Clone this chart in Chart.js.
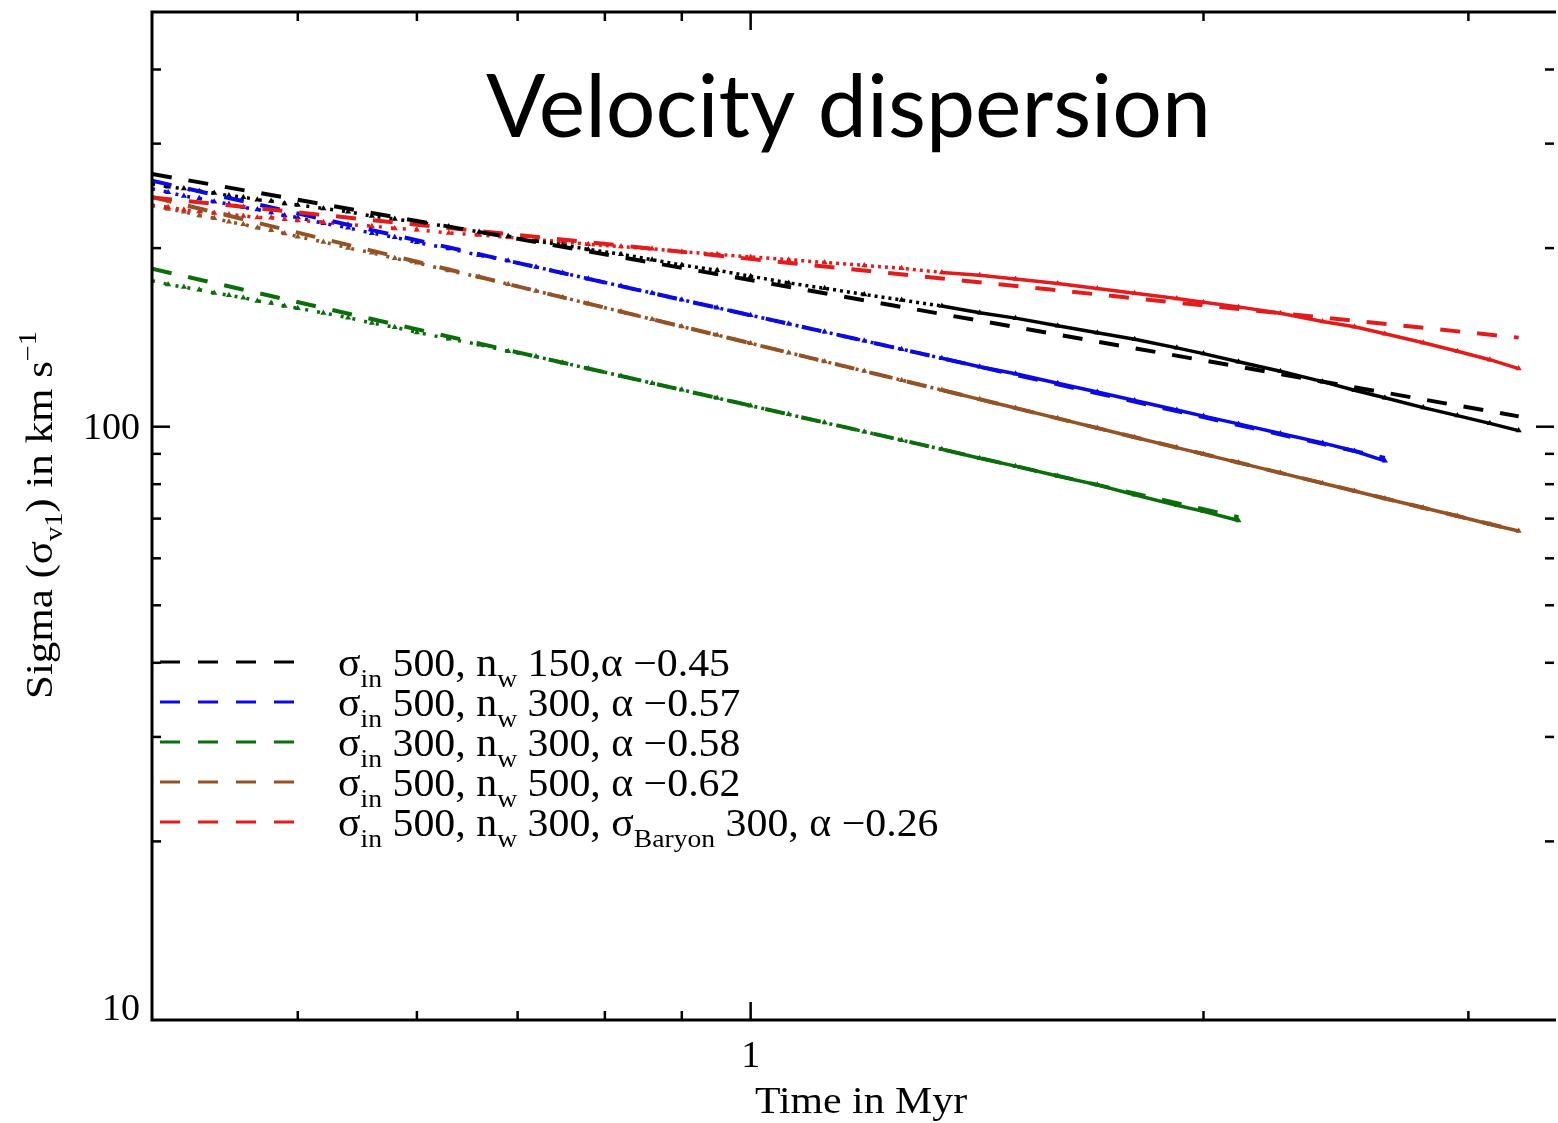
<!DOCTYPE html>
<html><head><meta charset="utf-8">
<script src="https://cdn.jsdelivr.net/npm/chart.js@4/dist/chart.umd.min.js"></script>
<style>html,body{margin:0;padding:0;background:#fff;overflow:hidden}#wrap{width:1558px;height:1123px;position:relative}</style>
</head><body><div id="wrap"><canvas id="c" width="1558" height="1123"></canvas></div>
<script>
// ---- data (Time in Myr, Sigma in km/s) ----
const simTime = [0.40,0.41,0.42,0.43,0.44,0.45,0.46,0.47,0.48,0.49,0.50,0.52,0.54,0.56,0.58,0.60,0.63,0.66,0.69,0.72,0.75,0.78,0.82,0.86,0.90,0.95,1.00,1.06,1.12,1.19,1.26,1.34,1.42,1.50,1.60,1.70,1.80,1.92,2.00,2.11,2.25,2.40,2.52,2.64,2.80,2.95,3.10,3.24];
const simBlack = [256.6,253.7,252.0,249.4,247.6,245.2,243.7,241.3,240.0,237.8,236.5,233.3,230.3,226.5,223.9,221.3,217.4,212.9,209.5,205.5,202.5,199.0,195.3,191.2,187.3,183.5,179.3,174.7,171.1,167.1,163.5,159.7,155.6,152.4,148.0,144.0,140.4,135.8,132.8,128.7,124.0,119.1,115.2,111.9,107.7,104.4,101.3,98.5];
const simBlue = [251.8,248.4,244.9,242.6,239.4,237.3,234.3,232.4,229.6,226.9,225.2,220.2,216.4,211.9,208.5,204.5,199.7,194.5,190.5,185.9,181.6,177.6,172.6,168.0,163.7,158.7,154.1,149.1,144.5,139.6,135.1,130.4,126.2,122.8,118.4,114.4,110.7,106.7,104.2,101.1,97.4,93.9,91.0,87.6,null,null,null,null];
const simGreen = [176.2,173.7,171.9,170.2,168.0,166.5,165.0,162.9,161.6,159.7,158.4,155.5,152.7,149.5,147.1,144.2,140.7,137.5,134.0,131.3,128.2,125.3,121.8,118.4,115.4,111.8,108.5,104.9,101.6,98.1,94.9,91.6,88.5,85.8,82.6,79.8,76.8,73.7,72.0,69.5,null,null,null,null,null,null,null,null];
const simBrown = [236.4,232.8,230.3,226.9,224.6,221.5,219.3,216.4,214.4,211.7,209.1,204.8,200.1,196.4,192.2,188.9,183.3,178.8,173.9,169.4,165.2,161.2,156.3,151.7,147.5,142.7,138.2,133.3,128.8,124.1,119.8,115.3,111.2,107.5,103.3,99.5,96.0,92.2,89.9,87.0,83.6,80.3,77.9,75.7,73.0,70.7,68.5,66.7];
const simRed = [236.0,234.4,232.0,230.6,229.2,227.9,226.6,225.3,225.0,223.8,222.6,221.2,219.1,217.8,215.9,214.8,212.1,210.4,208.7,206.5,205.1,203.0,201.2,199.5,197.2,195.2,193.3,191.2,189.2,187.0,184.9,182.0,180.0,177.4,174.4,171.0,167.8,164.4,162.1,159.2,155.3,150.4,147.4,143.4,138.5,134.0,129.7,125.3];

// power-law fits (dashed)
const fitTimeBlack = [0.40, 3.24], fitBlack = [266.7, 104.1];
const fitTimeBlue  = [0.40, 2.64], fitBlue  = [259.8, 88.6];
const fitTimeGreen = [0.40, 2.11], fitGreen = [184.6, 70.4];
const fitTimeBrown = [0.40, 3.24], fitBrown = [243.9, 66.7];
const fitTimeRed   = [0.40, 3.24], fitRed   = [243.4, 141.3];

// legend entries (text, mode: '' normal, 'sub')
const legendLabels = [
  [['σ',''],['in','sub'],[' 500, n',''],['w','sub'],[' 150,α −0.45','']],
  [['σ',''],['in','sub'],[' 500, n',''],['w','sub'],[' 300, α −0.57','']],
  [['σ',''],['in','sub'],[' 300, n',''],['w','sub'],[' 300, α −0.58','']],
  [['σ',''],['in','sub'],[' 500, n',''],['w','sub'],[' 500, α −0.62','']],
  [['σ',''],['in','sub'],[' 500, n',''],['w','sub'],[' 300, σ',''],['Baryon','sub'],[' 300, α −0.26','']]
];
const titleText = 'Velocity dispersion';
const xTitle = [['Time in Myr','']];
const yTitle = [['Sigma (σ',''],['v1','sub'],[') in km s',''],['−1','sup']];

// axis ticks
const xMinorTicks = [0.5,0.6,0.7,0.8,0.9,2,3];
const xMajorTicks = [1];
const xTickLabels = [[1,'1']];
const yMinorTicks = [20,30,40,50,60,70,80,90,200,300,400];
const yMajorTicks = [100];
const yTickLabels = [[10,'10'],[100,'100']];

const COL = {black:'#000000', blue:'#0a0ae6', green:'#0a6e0a', brown:'#955224', red:'#e51b1b'};

function pts(xs, ys){ return xs.map((x,i)=>({x:x, y:ys[i]})); }

function fitDs(xs, ys, c){
  return {data:pts(xs,ys), borderColor:c, borderWidth:4, borderDash:[20,17], pointRadius:0, fill:false, tension:0};
}
function simDs(ys, c){
  return {data:pts(simTime, ys), borderColor:c, backgroundColor:c, borderWidth:3.5,
    pointStyle:'triangle', pointRadius:3.5, pointBorderWidth:0, pointBackgroundColor:c,
    spanGaps:false, fill:false, tension:0,
    segment:{borderDash: ctx => (ctx.p0.parsed.x < 0.7 ? [3,9] : (ctx.p0.parsed.x < 1.3 ? [3,4] : []))}};
}

const SERIF = '"Liberation Serif", "DejaVu Serif", serif';

function richWidth(ctx, parts, size){
  let w = 0;
  for (const [t,m] of parts){
    ctx.font = (m ? size*0.66 : size) + 'px ' + SERIF;
    w += ctx.measureText(t).width;
  }
  return w;
}
function drawRich(ctx, parts, x, y, size, sx){
  let cx = 0;
  ctx.save();
  ctx.translate(x, y);
  ctx.scale(sx, 1);
  ctx.textBaseline = 'alphabetic';
  ctx.textAlign = 'left';
  for (const [t,m] of parts){
    const fs = m ? size*0.66 : size;
    ctx.font = fs + 'px ' + SERIF;
    const dy = m === 'sub' ? size*0.28 : (m === 'sup' ? -size*0.42 : 0);
    ctx.fillText(t, cx, dy);
    cx += ctx.measureText(t).width;
  }
  ctx.restore();
}

const framePlugin = {
  id:'frame',
  afterDraw(chart){
    const ctx = chart.ctx, a = chart.chartArea, xs = chart.scales.x, ys = chart.scales.y;
    ctx.save();
    ctx.fillStyle = '#000'; ctx.strokeStyle = '#000';
    // axes box
    ctx.lineWidth = 3;
    ctx.beginPath();
    ctx.moveTo(a.left, a.top); ctx.lineTo(a.right + 2, a.top);
    ctx.moveTo(a.left, a.top - 1.5); ctx.lineTo(a.left, a.bottom + 1.5);
    ctx.moveTo(a.left, a.bottom); ctx.lineTo(a.right + 2, a.bottom);
    ctx.stroke();
    // ticks (inward)
    ctx.lineWidth = 2.5;
    const line = (x0,y0,x1,y1) => { ctx.beginPath(); ctx.moveTo(x0,y0); ctx.lineTo(x1,y1); ctx.stroke(); };
    for (const v of xMinorTicks.concat(xMajorTicks)){
      const p = xs.getPixelForValue(v); const L = xMajorTicks.includes(v) ? 18 : 9;
      line(p, a.bottom, p, a.bottom - L); line(p, a.top, p, a.top + L);
    }
    for (const v of yMinorTicks.concat(yMajorTicks)){
      const p = ys.getPixelForValue(v); const L = yMajorTicks.includes(v) ? 18 : 9;
      line(a.left, p, a.left + L, p); line(a.right, p, a.right - L, p);
    }
    // tick labels
    ctx.font = '38px ' + SERIF;
    ctx.textBaseline = 'middle';
    ctx.textAlign = 'right';
    for (const [v,t] of yTickLabels){
      let p = ys.getPixelForValue(v);
      if (p > a.bottom - 15) p = a.bottom - 12;
      ctx.fillText(t, a.left - 12, p + 2);
    }
    ctx.textAlign = 'center';
    for (const [v,t] of xTickLabels){
      ctx.fillText(t, xs.getPixelForValue(v), a.bottom + 37);
    }
    // axis titles
    const xs1 = 38;
    const xw = richWidth(ctx, xTitle, xs1);
    drawRich(ctx, xTitle, 861 - xw*1.1/2, 1113, xs1, 1.1);
    ctx.save();
    ctx.translate(52, 515);
    ctx.rotate(-Math.PI/2);
    const yw = richWidth(ctx, yTitle, 37);
    const ysx = 368 / yw;
    drawRich(ctx, yTitle, -yw*ysx/2, 0, 37, ysx);
    ctx.restore();
    // title
    ctx.font = '90px Lato, "Open Sans", sans-serif';
    const tw = ctx.measureText(titleText).width;
    const ts = 90 * 725 / tw;
    ctx.font = ts + 'px Lato, "Open Sans", sans-serif';
    ctx.textAlign = 'left'; ctx.textBaseline = 'alphabetic';
    ctx.fillText(titleText, 486, 137);
    // legend
    const lcols = [COL.black, COL.blue, COL.green, COL.brown, COL.red];
    const r0w = richWidth(ctx, legendLabels[0], 39);
    const lsx = 392 / r0w;
    legendLabels.forEach((parts, i) => {
      const yy = 662 + i*40;
      ctx.strokeStyle = lcols[i]; ctx.lineWidth = 3; ctx.setLineDash([20,18]);
      line(160, yy, 296, yy);
      ctx.setLineDash([]);
      ctx.fillStyle = '#000';
      drawRich(ctx, parts, 338, yy + 14, 39, lsx);
    });
    ctx.restore();
  }
};

new Chart(document.getElementById('c'), {
  type:'line',
  data:{datasets:[
    fitDs(fitTimeBlack, fitBlack, COL.black),
    fitDs(fitTimeRed, fitRed, COL.red),
    fitDs(fitTimeBlue, fitBlue, COL.blue),
    fitDs(fitTimeBrown, fitBrown, COL.brown),
    fitDs(fitTimeGreen, fitGreen, COL.green),
    simDs(simBlack, COL.black),
    simDs(simRed, COL.red),
    simDs(simBlue, COL.blue),
    simDs(simBrown, COL.brown),
    simDs(simGreen, COL.green)
  ]},
  options:{
    responsive:false, animation:false, devicePixelRatio:1,
    layout:{padding:{top:12, right:0, left:0, bottom:0}},
    plugins:{legend:{display:false}, tooltip:{enabled:false}},
    scales:{
      x:{type:'logarithmic', min:0.4, max:3.42, grid:{display:false}, border:{display:false},
         ticks:{display:false}, afterFit: s => { s.height = 103; }},
      y:{type:'logarithmic', min:10, max:500, grid:{display:false}, border:{display:false},
         ticks:{display:false}, afterFit: s => { s.width = 152; }}
    }
  },
  plugins:[framePlugin]
});
</script></body></html>
